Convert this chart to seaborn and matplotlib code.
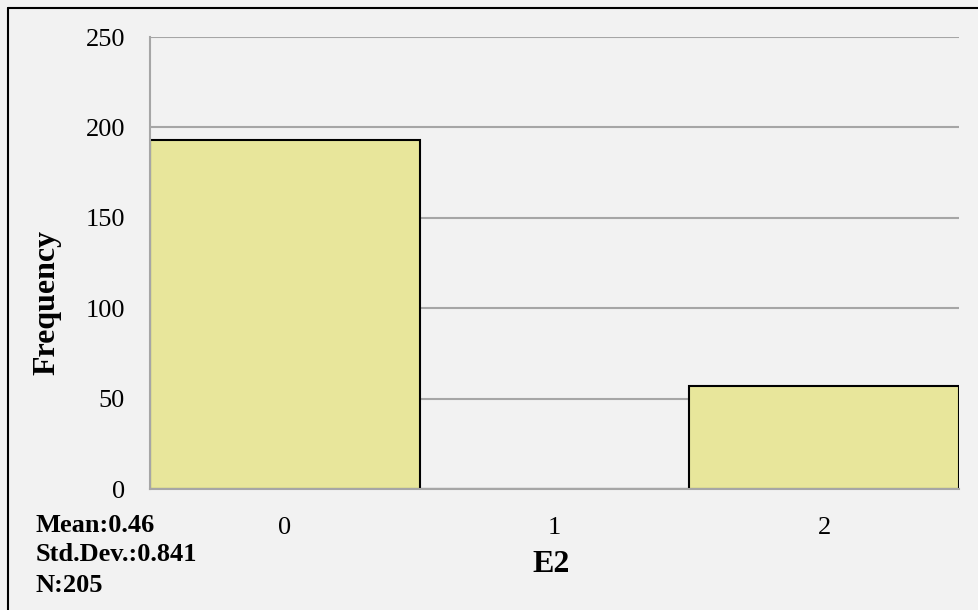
import matplotlib
matplotlib.use("Agg")
import matplotlib.pyplot as plt
from matplotlib.lines import Line2D
import seaborn as sns
import pandas as pd

# Frequency table for E2
categories = ["0", "1", "2"]
frequencies = [193, 0, 57]
y_ticks = [0, 50, 100, 150, 200, 250]
stats_lines = ["Mean:0.46", "Std.Dev.:0.841", "N:205"]

BG = "#f2f2f2"
BAR = "#e8e69b"
GRID = "#a6a6a6"

sns.set_theme(style="white")
plt.rcParams["font.family"] = ["Liberation Serif", "DejaVu Serif"]
plt.rcParams["text.color"] = "black"
plt.rcParams["xtick.labelcolor"] = "black"
plt.rcParams["ytick.labelcolor"] = "black"

W, H = 979, 610
fig = plt.figure(figsize=(W / 100, H / 100), dpi=100, facecolor=BG)
ax = fig.add_axes([150 / W, 1 - 489 / H, 809 / W, 452 / H])
ax.set_facecolor(BG)

df = pd.DataFrame({"E2": categories, "Frequency": frequencies})
sns.barplot(data=df, x="E2", y="Frequency", ax=ax, width=1.0, color=BAR,
            saturation=1, edgecolor="black", linewidth=1.5, zorder=2)

ax.set_xlim(-0.5, 2.5)
ax.set_ylim(0, 250)
ax.set_yticks(y_ticks)
ax.yaxis.grid(True, color=GRID, linewidth=1.5, zorder=0)
ax.set_axisbelow(True)

for side in ["top", "right"]:
    ax.spines[side].set_visible(False)
for side in ["left", "bottom"]:
    ax.spines[side].set_color(GRID)
    ax.spines[side].set_linewidth(1.5)
    ax.spines[side].set_zorder(3)

# category labels centred under the bars, tick marks at the bin edges
ax.set_xticks([0, 1, 2])
ax.set_xticklabels(categories)
ax.set_xticks([-0.5, 0.5, 1.5, 2.5], minor=True)
ax.tick_params(axis="x", which="major", length=0, pad=20, labelsize=19,
               labelcolor="black")
ax.tick_params(axis="x", which="minor", length=7, width=1.5, color=GRID, direction="out")
ax.tick_params(axis="y", length=7, width=1.5, color=GRID, direction="out",
               pad=11, labelsize=19, labelcolor="black")

ax.set_xlabel("")
ax.set_ylabel("")
fig.text(551 / W, 1 - 564 / H, "E2", ha="center", va="center",
         fontsize=23, fontweight="bold", color="black")
fig.text(47 / W, 1 - 302 / H, "Frequency", ha="center", va="center",
         rotation=90, fontsize=23, fontweight="bold", color="black")

baselines = [532, 561, 592]
for text, yb in zip(stats_lines, baselines):
    fig.text(36 / W, 1 - yb / H, text, ha="left", va="baseline",
             fontsize=19, fontweight="bold", color="black")

# chart frame (top and left edges)
fig.add_artist(Line2D([8 / W, 1.0], [1 - 8 / H, 1 - 8 / H], color="black",
                      linewidth=1.5, transform=fig.transFigure))
fig.add_artist(Line2D([8 / W, 8 / W], [1 - 8 / H, 0.0], color="black",
                      linewidth=1.5, transform=fig.transFigure))

fig.savefig("out.png", dpi=100, facecolor=BG)
